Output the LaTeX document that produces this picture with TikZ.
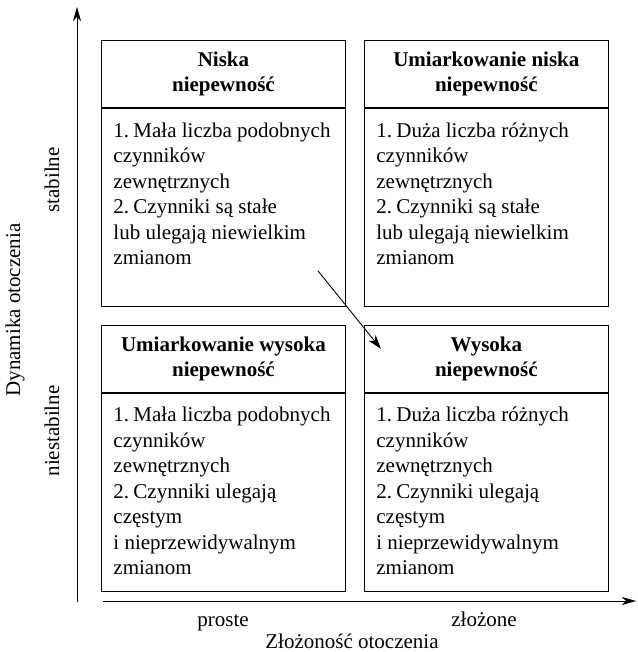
\documentclass[tikz,border=0pt]{standalone}
\usepackage{fontspec}
\setmainfont{Liberation Serif}
\usetikzlibrary{positioning,arrows.meta,calc}

% one numbered point with hanging indent
\newcommand{\pkt}[2]{\par\noindent\hangindent=20pt\hangafter=1\makebox[20pt][l]{#1}\strut#2\strut\par}
% body text, top aligned in the lower part of a box
\newcommand{\opis}[1]{\parbox[c][198pt][t]{220pt}{\raggedright\vspace*{11pt}#1}}

\begin{document}
\begin{tikzpicture}[
    x=1pt, y=1pt,
    line width=0.9pt,
    head/.style={draw, minimum width=244pt, minimum height=67pt, inner sep=0pt,
                 align=center, font=\fontsize{21}{25}\selectfont\bfseries},
    body/.style={draw, minimum width=244pt, minimum height=198pt, inner sep=0pt,
                 font=\fontsize{21}{25.5}\selectfont},
    lbl/.style={inner sep=0pt, font=\fontsize{21}{25}\selectfont},
    axis/.style={-{Stealth[length=14pt, width=8pt, inset=4pt]}},
    arr/.style={-{Stealth[length=14pt, width=9pt, inset=4pt]}}
  ]
  \useasboundingbox (0,0) rectangle (637,652);

  % ========= four quadrants =========
  \node[head, anchor=north west] (lowh) at (101,612) {Niska\\niepewność};
  \node[body, below=0pt of lowh] (lowb)
    {\opis{\pkt{1.}{Mała liczba podobnych\\czynników\\zewnętrznych}
           \pkt{2.}{Czynniki są stałe\\lub ulegają niewielkim\\zmianom}}};

  \node[head, right=18pt of lowh] (modlowh) {Umiarkowanie niska\\niepewność};
  \node[body, below=0pt of modlowh] (modlowb)
    {\opis{\pkt{1.}{Duża liczba różnych\\czynników\\zewnętrznych}
           \pkt{2.}{Czynniki są stałe\\lub ulegają niewielkim\\zmianom}}};

  \node[head, below=18pt of lowb] (modhighh) {Umiarkowanie wysoka\\niepewność};
  \node[body, below=0pt of modhighh] (modhighb)
    {\opis{\pkt{1.}{Mała liczba podobnych\\czynników\\zewnętrznych}
           \pkt{2.}{Czynniki ulegają\\częstym\\i nieprzewidywalnym\\zmianom}}};

  \node[head, below=18pt of modlowb] (highh) {Wysoka\\niepewność};
  \node[body, below=0pt of highh] (highb)
    {\opis{\pkt{1.}{Duża liczba różnych\\czynników\\zewnętrznych}
           \pkt{2.}{Czynniki ulegają\\częstym\\i nieprzewidywalnym\\zmianom}}};

  % shift from low to high uncertainty
  \coordinate (shiftfrom) at ($(lowb.south east)+(-28,36)$);
  \coordinate (shiftto) at ($(highh.north west)+(17,-24)$);
  \draw[arr] (shiftfrom) -- (shiftto);

  % ========= axes =========
  \coordinate (ybot) at (77,50);
  \coordinate (ytop) at (77,645);
  \coordinate (xleft) at (103,51);
  \coordinate (xright) at (636,51);
  \draw[axis] (ybot) -- (ytop);
  \draw[axis] (xleft) -- (xright);

  \node[lbl, rotate=90] (stab) at (52,472) {stabilne};
  \node[lbl, rotate=90] (niestab) at (52,221) {niestabilne};
  \node[lbl, rotate=90] (dyn) at (15,342) {Dynamika otoczenia};

  \node[lbl, anchor=base] (proste) at (223,25) {proste};
  \node[lbl, anchor=base] (zlozone) at (484,25) {złożone};
  \node[lbl, anchor=base] (zlozonosc) at (352,4) {Złożoność otoczenia};

\end{tikzpicture}
\end{document}
